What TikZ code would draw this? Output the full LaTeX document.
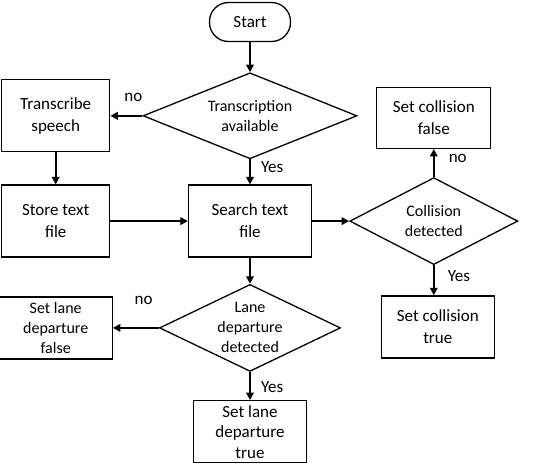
\documentclass[tikz,border=0pt]{standalone}
\usepackage{fontspec}
\setmainfont{Carlito}
\usetikzlibrary{arrows.meta,positioning,shapes.geometric}

\begin{document}
\begin{tikzpicture}[
  x=1pt, y=1pt,
  term/.style={draw, line width=1.3pt, rounded corners=19pt, minimum width=81pt,
               minimum height=39pt, font=\fontsize{17}{22}\selectfont},
  proc/.style={draw, line width=1.3pt, minimum width=113pt, minimum height=62pt,
               inner sep=2pt, font=\fontsize{17}{22}\selectfont, align=center},
  decide/.style={draw, diamond, line width=1.3pt, inner sep=0pt,
                 font=\fontsize{16}{20}\selectfont, align=center},
  arr/.style={-{Triangle[length=7.5pt,width=7.5pt]}, line width=2pt},
  lbl/.style={inner sep=2pt, font=\fontsize{17}{20}\selectfont},
  node distance=30pt
]
\useasboundingbox (0,0) rectangle (550,-464);
\node[term] (start) at (250,-22) {Start};
\node[decide, minimum width=214pt, minimum height=86pt, aspect=2.49,
      below=30pt of start] (trans) {Transcription\\available};
\node[proc, minimum width=108pt, minimum height=72pt, left=32pt of trans] (speech) {Transcribe\\speech};
\node[proc, minimum width=108pt, minimum height=72pt, below=32pt of speech] (store) {Store text\\file};
\node[proc, minimum width=123pt, minimum height=72pt, below=25pt of trans] (search) {Search text\\file};
\node[decide, minimum width=168pt, minimum height=87pt, aspect=1.93,
      right=37pt of search] (coll) {Collision\\detected};
\node[proc, minimum width=114pt, minimum height=61pt, above=28pt of coll] (collfalse) {Set collision\\false};
\node[proc, below=30pt of coll, xshift=4pt] (colltrue) {Set collision\\true};
\node[decide, minimum width=181pt, minimum height=87pt, aspect=2.08,
      below=26pt of search] (lane) {Lane\\departure\\detected};
\node[proc, font=\fontsize{16}{20}\selectfont, left=46pt of lane] (lanefalse) {Set lane\\departure\\false};
\node[proc, inner sep=1pt, font=\fontsize{17}{20.5}\selectfont, below=28pt of lane] (lanetrue) {Set lane\\departure\\true};

\draw[arr] (start) -- (trans);
\draw[arr] (trans) -- node[lbl, above=11pt, pos=0.28] {no} (speech);
\draw[arr] (trans) -- node[lbl, right=8pt, pos=0.3] {Yes} (search);
\draw[arr] (speech) -- (store);
\draw[arr] (store) -- (search);
\draw[arr] (search) -- (coll);
\draw[arr] (coll) -- node[lbl, right=12pt, pos=0.65] {no} (collfalse);
\draw[arr] (coll) -- node[lbl, right=11pt, pos=0.35] {Yes} (coll |- colltrue.north);
\draw[arr] (search) -- (lane);
\draw[arr] (lane) -- node[lbl, above=20pt, pos=0.33] {no} (lanefalse);
\draw[arr] (lane) -- node[lbl, right=8pt, pos=0.55] {Yes} (lanetrue);
\end{tikzpicture}
\end{document}
